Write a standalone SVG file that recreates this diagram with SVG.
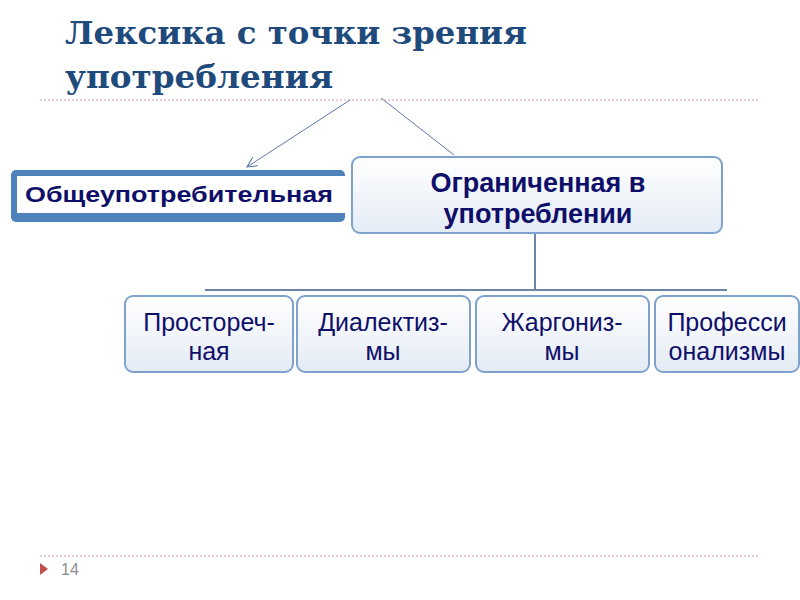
<svg xmlns="http://www.w3.org/2000/svg" width="800" height="600" viewBox="0 0 800 600">
<defs>
<linearGradient id="g" x1="0" y1="0" x2="0" y2="1">
<stop offset="0" stop-color="#ffffff"/>
<stop offset="1" stop-color="#e4ebf5"/>
</linearGradient>
<marker id="arr" markerWidth="12" markerHeight="10" refX="10" refY="5" orient="auto" markerUnits="userSpaceOnUse">
<path d="M0,0 L10,5 L0,10" fill="none" stroke="#4f6fa5" stroke-width="1"/>
</marker>
<style>
.title{font-family:"DejaVu Serif","Liberation Serif",serif;font-weight:bold;font-size:32px;fill:#1f4a7c}
.box{fill:url(#g);stroke:#7ea2cc;stroke-width:2}
.bt{font-family:"Liberation Sans",Arial,sans-serif;font-weight:bold;fill:#0f0f6a;text-anchor:middle}
.st{font-family:"Liberation Sans",Arial,sans-serif;font-size:25px;fill:#0f0f6a;text-anchor:middle}
.dot{stroke:#d9a0a0;stroke-width:1;stroke-dasharray:2,2}
.conn{fill:none;stroke:#5b78ad;stroke-width:1}
.tree{fill:none;stroke:#6d86a8;stroke-width:2}
</style>
</defs>
<rect width="800" height="600" fill="#ffffff"/>
<text class="title" x="65" y="44" textLength="462" lengthAdjust="spacingAndGlyphs">Лексика с точки зрения</text>
<text class="title" x="65" y="88" textLength="268" lengthAdjust="spacingAndGlyphs">употребления</text>
<line class="dot" x1="40" y1="100" x2="760" y2="100"/>
<line class="dot" x1="40" y1="556" x2="760" y2="556"/>
<polygon points="40,563 48,569 40,575" fill="#c0504d"/>
<text x="61" y="575" font-family="Liberation Sans,Arial,sans-serif" font-size="16" fill="#8c8c8c">14</text>
<g id="connectors">
<line class="conn" x1="350" y1="100" x2="247" y2="167" marker-end="url(#arr)"/>
<line class="conn" x1="381" y1="98" x2="454" y2="155"/>
<polyline class="tree" points="535,233 535,290"/>
<line class="tree" x1="205" y1="290" x2="727" y2="290"/>
</g>
<g id="node-common">
<rect x="11" y="170" width="334" height="52" rx="5" fill="#4f81bd"/>
<rect x="17" y="176" width="328" height="37" fill="#ffffff"/>
<text class="bt" x="179" y="202" font-size="22" textLength="308" lengthAdjust="spacingAndGlyphs">Общеупотребительная</text>
</g>
<g id="node-limited">
<rect class="box" x="352" y="157" width="370" height="76" rx="8"/>
<text class="bt" x="538" y="192" font-size="27">Ограниченная в</text>
<text class="bt" x="538" y="223" font-size="27">употреблении</text>
</g>
<g id="node-prostorech">
<rect class="box" x="125" y="296" width="168" height="76" rx="8"/>
<text class="st" x="209" y="331">Простореч-</text>
<text class="st" x="209" y="360">ная</text>
</g>
<g id="node-dialect">
<rect class="box" x="297" y="296" width="173" height="76" rx="8"/>
<text class="st" x="383" y="331">Диалектиз-</text>
<text class="st" x="383" y="360">мы</text>
</g>
<g id="node-jargon">
<rect class="box" x="476" y="296" width="173" height="76" rx="8"/>
<text class="st" x="562" y="331">Жаргониз-</text>
<text class="st" x="562" y="360">мы</text>
</g>
<g id="node-prof">
<rect class="box" x="655" y="296" width="144" height="76" rx="8"/>
<text class="st" x="727" y="331">Професси</text>
<text class="st" x="727" y="360">онализмы</text>
</g>
</svg>
